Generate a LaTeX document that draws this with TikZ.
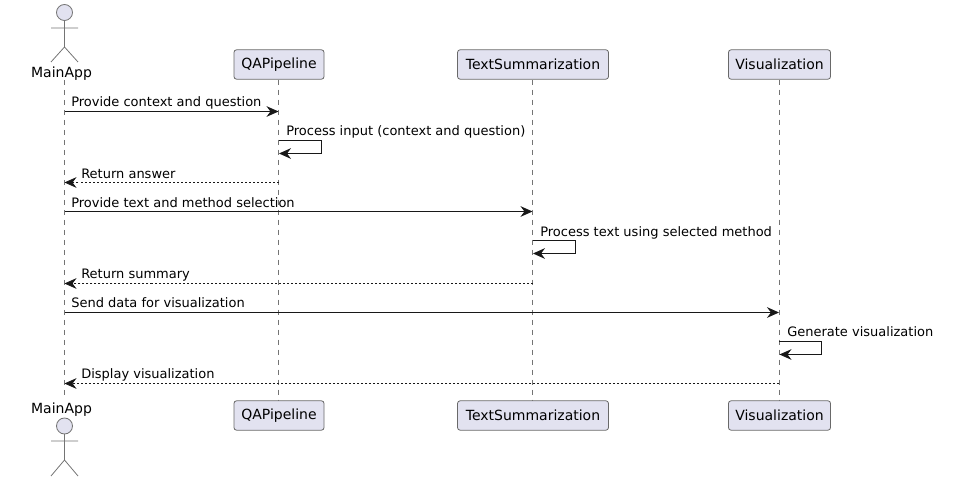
\documentclass[tikz,border=0pt]{standalone}
\usepackage{fontspec}
\setmainfont{DejaVu Sans}
\usepackage{xcolor}
\usetikzlibrary{arrows.meta}
\definecolor{partfill}{HTML}{E2E2F0}
\definecolor{partline}{HTML}{181818}
\tikzset{
	part/.style={draw=partline!65!white, line width=.6pt, fill=partfill, rounded corners=1.9pt, minimum height=22pt, inner sep=0pt, text=black, font=\fontsize{10.5}{12}\selectfont},
	actorlbl/.style={inner sep=0pt, anchor=base, text=black, font=\fontsize{10.5}{12}\selectfont},
	lifeline/.style={partline!60!white, line width=.5pt, dash pattern=on 3.75pt off 3.75pt},
	stick/.style={partline!60!white, line width=.6pt},
	msg/.style={partline, line width=.75pt, -{Stealth[length=9pt, width=8pt, inset=3pt]}},
	ret/.style={msg, line width=.6pt, dash pattern=on 1.5pt off 1.5pt},
	msglbl/.style={inner sep=0pt, anchor=base west, text=black, font=\fontsize{9.75}{12}\selectfont}
}
\begin{document}
\begin{tikzpicture}[x=.75pt,y=-.75pt]
	\useasboundingbox (0,0) rectangle (972,502);
	% draw participants
	\node[actorlbl] (maintop) at (61.5,78) {MainApp};
	\node[actorlbl] (mainbot) at (61.5,414) {MainApp};
	\node[part, minimum width=67.5pt] (qatop) at (279,64.5) {QAPipeline};
	\node[part, minimum width=67.5pt] (qabot) at (279,415.5) {QAPipeline};
	\node[part, minimum width=113.2pt] (tstop) at (533,64.5) {TextSummarization};
	\node[part, minimum width=113.2pt] (tsbot) at (533,415.5) {TextSummarization};
	\node[part, minimum width=76.5pt] (vistop) at (779.5,64.5) {Visualization};
	\node[part, minimum width=76.5pt] (visbot) at (779.5,415.5) {Visualization};
	% draw lifelines
	\coordinate (mainstart) at (64.5,80);
	\coordinate (mainend) at (64.5,400);
	\draw[lifeline] (mainstart) -- (mainend);
	\draw[lifeline] (qatop.south -| 278.5,0) -- (qabot.north -| 278.5,0);
	\draw[lifeline] (tstop.south -| 532.5,0) -- (tsbot.north -| 532.5,0);
	\draw[lifeline] (vistop.south -| 779,0) -- (visbot.north -| 779,0);
	% draw actors
	\draw[stick, fill=partfill] (64.5,12.5) circle (6pt);
	\draw[stick] (64.5,20.5) -- (64.5,47) (51,28) -- (78,28) (51,62) -- (64.5,47) -- (78,62);
	\draw[stick, fill=partfill] (64.5,426) circle (6pt);
	\draw[stick] (64.5,434) -- (64.5,460) (51,441) -- (78,441) (51,476) -- (64.5,460) -- (78,476);
	% message end points on the lifelines
	\coordinate (a1) at (64.5,111.5); \coordinate (b1) at (278.5,111.5);
	\coordinate (s1) at (278.5,140.5);\coordinate (u1) at (321.5,140.5);
	\coordinate (v1) at (321.5,153.5);\coordinate (e1) at (279,153.5);
	\coordinate (b2) at (278.5,182.5);\coordinate (a2) at (64.5,182.5);
	\coordinate (a3) at (64.5,211.5); \coordinate (c3) at (532.5,211.5);
	\coordinate (s2) at (532.5,240.5);\coordinate (u2) at (575.5,240.5);
	\coordinate (v2) at (575.5,253.5);\coordinate (e2) at (533,253.5);
	\coordinate (c4) at (532.5,283.5);\coordinate (a4) at (64.5,283.5);
	\coordinate (a5) at (64.5,312.5); \coordinate (d5) at (779,312.5);
	\coordinate (s3) at (779,341.5);  \coordinate (u3) at (821.5,341.5);
	\coordinate (v3) at (821.5,354.5);\coordinate (e3) at (779.5,354.5);
	\coordinate (d6) at (779,383.5);  \coordinate (a6) at (64.5,383.5);
	% draw messages
	\draw[msg] (a1) -- (b1);
	\node[msglbl] (lbl1) at (71,107) {Provide context and question};
	\draw[msg] (s1) -- (u1) -- (v1) -- (e1);
	\node[msglbl] (lbl2) at (286,136) {Process input (context and question)};
	\draw[ret] (b2) -- (a2);
	\node[msglbl] (lbl3) at (81,179) {Return answer};
	\draw[msg] (a3) -- (c3);
	\node[msglbl] (lbl4) at (71,208) {Provide text and method selection};
	\draw[msg] (s2) -- (u2) -- (v2) -- (e2);
	\node[msglbl] (lbl5) at (540,237) {Process text using selected method};
	\draw[ret] (c4) -- (a4);
	\node[msglbl] (lbl6) at (81,279) {Return summary};
	\draw[msg] (a5) -- (d5);
	\node[msglbl] (lbl7) at (71,308) {Send data for visualization};
	\draw[msg] (s3) -- (u3) -- (v3) -- (e3);
	\node[msglbl] (lbl8) at (787,337) {Generate visualization};
	\draw[ret] (d6) -- (a6);
	\node[msglbl] (lbl9) at (81,379) {Display visualization};
\end{tikzpicture}
\end{document}
